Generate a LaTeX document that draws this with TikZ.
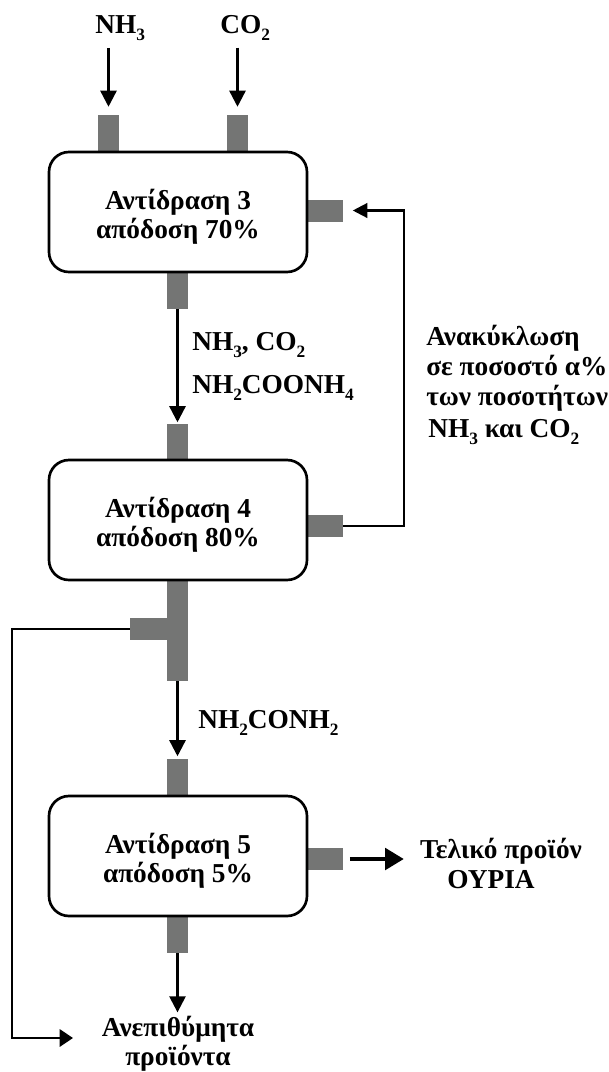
\documentclass[tikz,border=0pt]{standalone}
\usepackage{fontspec}
\setmainfont{Liberation Serif}
\usetikzlibrary{arrows.meta}
\definecolor{portgray}{RGB}{116,117,116}
\newcommand\dn[1]{\raisebox{-0.28em}{\fontsize{13}{13}\selectfont #1}}
\newcommand\topstrut{\rule{0pt}{23pt}}
\begin{document}
\begin{tikzpicture}[x=0.75pt,y=-0.75pt,
  every node/.style={font=\fontsize{20.5}{21.75}\selectfont\bfseries},
  reactor/.style={draw, line width=2pt, rounded corners=15pt, fill=white,
    minimum width=193.5pt, minimum height=90pt, align=center, inner sep=0pt},
  vport/.style={fill=portgray, minimum width=15.75pt, minimum height=27.75pt, inner sep=0pt},
  hport/.style={fill=portgray, minimum width=27pt, minimum height=16.5pt, inner sep=0pt},
  arr/.style={line width=1.8pt, -{Triangle[length=12pt,width=12pt]}},
  lbl/.style={inner sep=0pt, anchor=base west},
  clbl/.style={inner sep=0pt, anchor=base},
]
\useasboundingbox (0,0) rectangle (608,1072);

% ports
\node[vport] (p3a) at (108.5,133.5) {};
\node[vport] (p3b) at (237.5,133.5) {};
\node[hport] (p3r) at (324.5,210.5) {};
\node[vport] (p3d) at (177.5,290) {};
\node[vport] (p4u) at (177.5,442) {};
\node[hport] (p4r) at (325,526) {};
\node[vport, minimum height=75.75pt] (t4v) at (177.5,630.5) {};
\node[hport, minimum width=27.75pt] (t4h) at (148.5,629) {};
\node[vport] (p5u) at (177.5,777) {};
\node[hport] (p5r) at (325,859) {};
\node[vport] (p5d) at (177.5,934.5) {};

% reactors
\node[reactor] (r3) at (178,212) {\topstrut Αντίδραση 3\\απόδοση 70\%};
\node[reactor] (r4) at (178,520) {\topstrut Αντίδραση 4\\απόδοση 80\%};
\node[reactor] (r5) at (178,856) {\topstrut Αντίδραση 5\\απόδοση 5\%};

% labels
\node[lbl] (nh3) at (95,33) {NH\dn{3}};
\node[lbl] (co2) at (220,33) {CO\dn{2}};
\node[lbl] (m1) at (192,350) {NH\dn{3}, CO\dn{2}};
\node[lbl] (m2) at (192,393) {NH\dn{2}COONH\dn{4}};
\node[lbl] (m3) at (198,728) {NH\dn{2}CONH\dn{2}};
\node[lbl] (rc1) at (426,345) {Ανακύκλωση};
\node[lbl] (rc2) at (426,375) {σε ποσοστό α\%};
\node[lbl] (rc3) at (426,405) {των ποσοτήτων};
\node[lbl] (rc4) at (428,437) {NH\dn{3} και CO\dn{2}};
\node[clbl] (pr1) at (501,858) {Τελικό προϊόν};
\node[clbl] (pr2) at (491,888) {ΟΥΡΙΑ};
\node[inner sep=0pt, align=center, anchor=south] (waste) at (178,1072) {Ανεπιθύμητα\\προϊόντα};
\coordinate (wasteL) at (73,1038);

% connectors
\draw[arr, shorten <=5pt, shorten >=6pt] (nh3.south -| p3a.north) -- (p3a.north);
\draw[arr, shorten <=5pt, shorten >=6pt] (co2.south -| p3b.north) -- (p3b.north);
\draw[arr, shorten >=0.75pt] (p3d.south) -- (p4u.north);
\draw[arr, shorten >=1.5pt] (t4v.south) -- (p5u.north);
\draw[arr, shorten >=3pt] (p5d.south) -- (p5d.south |- waste.north);
\draw[line width=1.7pt, -{Triangle[length=11pt,width=11pt]}, shorten >=7.5pt]
  (p4r.east) -- ++(61,0) |- (p3r.east);
\draw[line width=1.7pt, -{Triangle[length=10pt,width=13pt]}]
  (t4h.west) -- ++(-118,0) |- (wasteL);
\draw[line width=3pt, -{Triangle[length=14pt,width=16pt]}, shorten <=5pt, shorten >=12pt]
  (p5r.east) -- (pr1.west |- p5r.east);
\end{tikzpicture}
\end{document}
